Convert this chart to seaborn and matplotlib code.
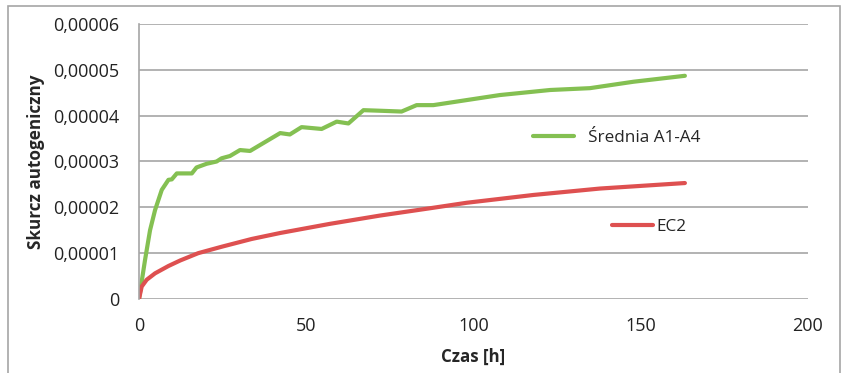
import matplotlib.pyplot as plt
import seaborn as sns
import numpy as np
import pandas as pd
from matplotlib.patches import Rectangle
from matplotlib.ticker import FuncFormatter

### values
czas_srednia = [0, 1.8, 3.3, 4.8, 6.8, 8.8, 9.8, 11.3, 15.8, 17.2, 20.2, 23.2, 24.7,
                27.2, 30.2, 33.2, 42.2, 45.1, 48.6, 54.6, 59.1, 62.6, 67.1, 71.1,
                78.5, 83.0, 88.0, 107.9, 122.9, 134.8, 147.8, 163.2]
skurcz_srednia = [0, 0.85, 1.5, 1.94, 2.38, 2.6, 2.61, 2.74, 2.74, 2.87, 2.95, 3.0, 3.07,
                  3.12, 3.25, 3.23, 3.62, 3.59, 3.75, 3.71, 3.87, 3.83, 4.12, 4.11,
                  4.09, 4.23, 4.23, 4.45, 4.56, 4.60, 4.74, 4.87]

czas_ec2 = [0, 0.3, 0.8, 2.3, 4.8, 8.8, 12.3, 17.7, 24.7, 33.7, 42.2, 57.1, 72.0,
            87.0, 98.0, 117.9, 137.8, 163.2]
skurcz_ec2 = [0, 0.1, 0.27, 0.42, 0.56, 0.72, 0.84, 1.0, 1.14, 1.31, 1.44, 1.64, 1.82,
              1.98, 2.10, 2.27, 2.41, 2.53]

x_ticks = [0, 50, 100, 150, 200]
y_ticks = [0, 1e-5, 2e-5, 3e-5, 4e-5, 5e-5, 6e-5]

GREEN = "#84C052"
RED = "#DE5050"

df_sr = pd.DataFrame({"czas": czas_srednia, "skurcz": np.array(skurcz_srednia) * 1e-5})
df_ec = pd.DataFrame({"czas": czas_ec2, "skurcz": np.array(skurcz_ec2) * 1e-5})

sns.set_style("white")
plt.rcParams['font.family'] = ['Open Sans', 'DejaVu Sans']

fig = plt.figure(figsize=(8.48, 3.73), dpi=100)
ax = fig.add_axes([139 / 848, 1 - 299 / 373, 669 / 848, 275 / 373])

sns.lineplot(data=df_sr, x="czas", y="skurcz", ax=ax, color=GREEN, lw=3,
             solid_capstyle="round", label="Średnia A1-A4")
sns.lineplot(data=df_ec, x="czas", y="skurcz", ax=ax, color=RED, lw=3,
             solid_capstyle="round", label="EC2")

ax.set_xlim(0, 200)
ax.set_ylim(0, 6e-5)
ax.set_xticks(x_ticks)
ax.set_yticks(y_ticks)
ax.yaxis.set_major_formatter(FuncFormatter(
    lambda v, p: "0" if v == 0 else ("%.5f" % v).replace(".", ",")))
ax.grid(axis="y", color="#A6A6A6", lw=1.2)
ax.tick_params(axis="both", length=0, labelsize=13, colors="#222222")
ax.tick_params(axis="y", pad=14)
ax.tick_params(axis="x", pad=13)
for s in ["top", "right", "bottom"]:
    ax.spines[s].set_visible(False)
ax.spines["left"].set_color("#A6A6A6")
ax.spines["left"].set_linewidth(1.2)

ax.set_xlabel("Czas [h]", fontsize=12.2, fontweight="bold", labelpad=9)
ax.set_ylabel("Skurcz autogeniczny", fontsize=12.3, fontweight="bold", labelpad=6)

### two separate legend entries like the excel original
h, l = ax.get_legend_handles_labels()
ax.get_legend().remove()
leg1 = ax.legend([h[0]], [l[0]], loc="center left", frameon=False, fontsize=12.3,
                 handlelength=2.4, borderaxespad=0, borderpad=0,
                 bbox_to_anchor=((533 - 139) / 669, (299 - 138) / 275))
ax.add_artist(leg1)
ax.legend([h[1]], [l[1]], loc="center left", frameon=False, fontsize=12.3,
          handlelength=2.4, handletextpad=0.2, borderaxespad=0, borderpad=0,
          bbox_to_anchor=((612 - 139) / 669, (299 - 227) / 275))

### outer chart frame
fig.patches.append(Rectangle((8 / 848, -0.1), 832 / 848, 1.1 - 6 / 373,
                             transform=fig.transFigure, fill=False,
                             edgecolor="#A6A6A6", lw=1.2))

fig.savefig("out.png", dpi=100)
